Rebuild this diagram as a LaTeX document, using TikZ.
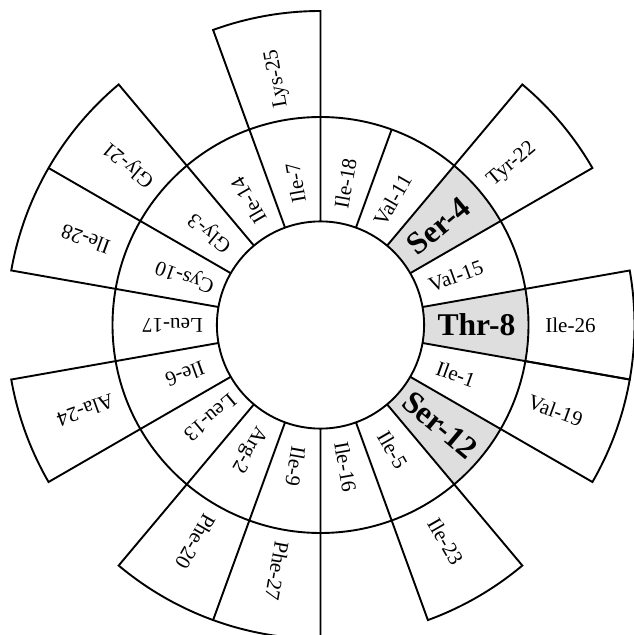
\documentclass[tikz,border=0pt]{standalone}
\usepackage{fontspec}
\setmainfont{Liberation Serif}

\begin{document}
\begin{tikzpicture}[
  ring/.style={line width=1.35pt},
  hot/.style={fill=black!13},
  res/.style={font=\fontsize{15}{15}\selectfont,inner sep=0pt},
  key/.style={font=\fontsize{22.5}{22.5}\selectfont\bfseries,inner sep=0pt}
]
  \clip (-8.0125,-7.75) rectangle (7.8375,8.125);

  % The three hydroxyl residues get a grey sector.
  \path[hot] (30:2.59) -- (30:5.2) arc[start angle=30,end angle=50,radius=5.2]
    -- (50:2.59) arc[start angle=50,end angle=30,radius=2.59] -- cycle;
  \path[hot] (-10:2.59) -- (-10:5.2) arc[start angle=-10,end angle=10,radius=5.2]
    -- (10:2.59) arc[start angle=10,end angle=-10,radius=2.59] -- cycle;
  \path[hot] (-50:2.59) -- (-50:5.2) arc[start angle=-50,end angle=-30,radius=5.2]
    -- (-30:2.59) arc[start angle=-30,end angle=-50,radius=2.59] -- cycle;

  % Inner wheel: two circles and eighteen spokes.
  \draw[ring] (0,0) circle[radius=2.59];
  \draw[ring] (0,0) circle[radius=5.2];
  \draw[ring]
    (10:2.59) -- (10:5.2)   (30:2.59) -- (30:5.2)   (50:2.59) -- (50:5.2)
    (70:2.59) -- (70:5.2)   (90:2.59) -- (90:5.2)   (110:2.59) -- (110:5.2)
    (130:2.59) -- (130:5.2) (150:2.59) -- (150:5.2) (170:2.59) -- (170:5.2)
    (190:2.59) -- (190:5.2) (210:2.59) -- (210:5.2) (230:2.59) -- (230:5.2)
    (250:2.59) -- (250:5.2) (270:2.59) -- (270:5.2) (290:2.59) -- (290:5.2)
    (310:2.59) -- (310:5.2) (330:2.59) -- (330:5.2) (350:2.59) -- (350:5.2);

  % Outer boxes for residues 19-28.
  \draw[ring] (-10:5.2) -- (-10:7.85) arc[start angle=-10,end angle=10,radius=7.85] -- (10:5.2);
  \draw[ring] (30:5.2) -- (30:7.85) arc[start angle=30,end angle=50,radius=7.85] -- (50:5.2);
  \draw[ring] (90:5.2) -- (90:7.85) arc[start angle=90,end angle=110,radius=7.85] -- (110:5.2);
  \draw[ring] (130:5.2) -- (130:7.85) arc[start angle=130,end angle=170,radius=7.85] -- (170:5.2);
  \draw[ring] (150:5.2) -- (150:7.85);
  \draw[ring] (190:5.2) -- (190:7.85) arc[start angle=190,end angle=210,radius=7.85] -- (210:5.2);
  \draw[ring] (230:5.2) -- (230:7.85) arc[start angle=230,end angle=270,radius=7.85] -- (270:5.2);
  \draw[ring] (250:5.2) -- (250:7.85);
  \draw[ring] (290:5.2) -- (290:7.85) arc[start angle=290,end angle=310,radius=7.85] -- (310:5.2);
  \draw[ring] (330:5.2) -- (330:7.85) arc[start angle=330,end angle=350,radius=7.85] -- (350:5.2);

  % Residues 1-18 on the inner wheel.
  \node[res,rotate=-20] (ile1) at (-20:3.6) {Ile-1};
  \node[res,rotate=240] (arg2) at (240:3.6) {Arg-2};
  \node[res,rotate=140] (gly3) at (140:3.6) {Gly-3};
  \node[key,rotate=40] (ser4) at (40:3.85) {Ser-4};
  \node[res,rotate=-60] (ile5) at (-60:3.6) {Ile-5};
  \node[res,rotate=200] (ile6) at (200:3.6) {Ile-6};
  \node[res,rotate=100] (ile7) at (100:3.6) {Ile-7};
  \node[key] (thr8) at (0:3.9) {Thr-8};
  \node[res,rotate=260] (ile9) at (260:3.6) {Ile-9};
  \node[res,rotate=160] (cys10) at (160:3.6) {Cys-10};
  \node[res,rotate=60] (val11) at (60:3.6) {Val-11};
  \node[key,rotate=-40] (ser12) at (-40:3.9) {Ser-12};
  \node[res,rotate=220] (leu13) at (220:3.6) {Leu-13};
  \node[res,rotate=120] (ile14) at (120:3.6) {Ile-14};
  \node[res,rotate=20] (val15) at (20:3.6) {Val-15};
  \node[res,rotate=-80] (ile16) at (-80:3.6) {Ile-16};
  \node[res,rotate=180] (leu17) at (180:3.7) {Leu-17};
  \node[res,rotate=80] (ile18) at (80:3.6) {Ile-18};

  % Residues 19-28 in the outer boxes.
  \node[res,rotate=-20] (val19) at (-20:6.25) {Val-19};
  \node[res,rotate=240] (phe20) at (240:6.25) {Phe-20};
  \node[res,rotate=140] (gly21) at (140:6.25) {Gly-21};
  \node[res,rotate=40] (tyr22) at (40:6.25) {Tyr-22};
  \node[res,rotate=-60] (ile23) at (-60:6.25) {Ile-23};
  \node[res,rotate=200] (ala24) at (200:6.25) {Ala-24};
  \node[res,rotate=100] (lys25) at (100:6.25) {Lys-25};
  \node[res] (ile26) at (0:6.25) {Ile-26};
  \node[res,rotate=260] (phe27) at (260:6.25) {Phe-27};
  \node[res,rotate=160] (ile28) at (160:6.25) {Ile-28};
\end{tikzpicture}
\end{document}
